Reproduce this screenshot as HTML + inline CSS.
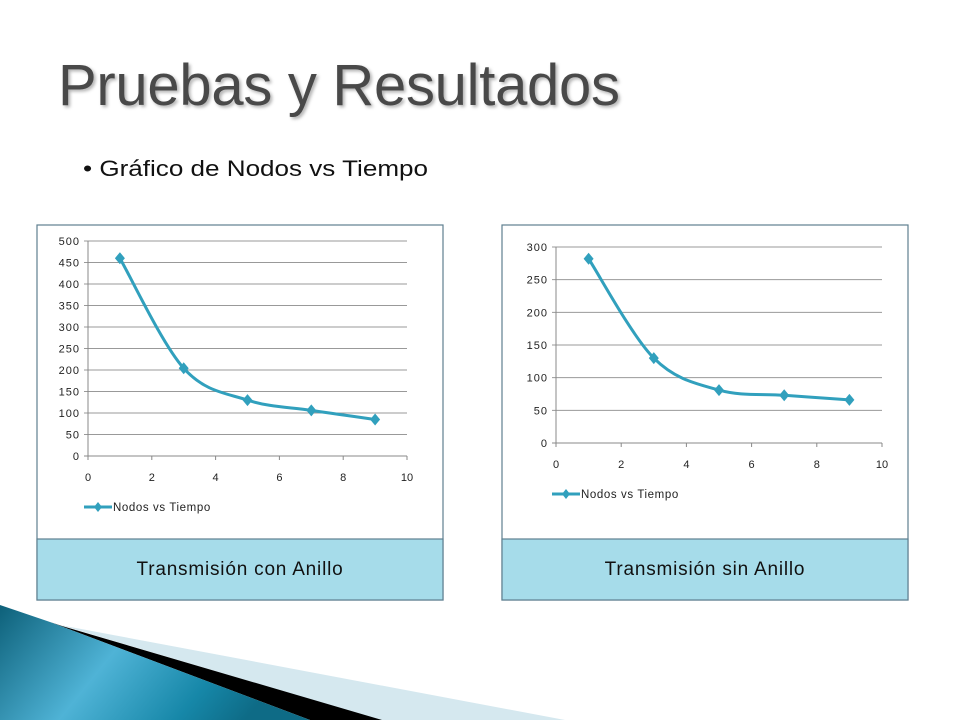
<!DOCTYPE html>
<html><head><meta charset="utf-8"><style>
html,body{margin:0;padding:0;background:#fff;}
svg{display:block;font-family:"Liberation Sans",sans-serif;}
</style></head><body>
<svg id="slide" width="960" height="720" viewBox="0 0 960 720">
<defs>
<linearGradient id="bg1" x1="0" y1="0" x2="1" y2="0.3">
<stop offset="0" stop-color="#0d6079"/><stop offset="0.45" stop-color="#4fb3d6"/><stop offset="0.8" stop-color="#1687a8"/><stop offset="1" stop-color="#0e6b86"/>
</linearGradient>
<filter id="sh"><feDropShadow dx="2" dy="2" stdDeviation="1.5" flood-color="#000" flood-opacity="0.3"/></filter>
</defs>
<text x="58" y="105" font-size="58" fill="#4a4a4a" textLength="562" lengthAdjust="spacing" filter="url(#sh)">Pruebas y Resultados</text>
<text x="83" y="176" font-size="22" fill="#111" textLength="345" lengthAdjust="spacingAndGlyphs">• Gráfico de Nodos vs Tiempo</text>

<g>
<polygon points="60,625 565,720 380,720" fill="#d5e8ef"/>
<polygon points="50,622 62,626 382,720 310,720" fill="#000"/>
<polygon points="0,605 50,622 310,720 0,720" fill="url(#bg1)"/>
</g>

<g id="left"></g>
<g id="right"></g>
</svg>
<script>
const xCategories=[1,3,5,7,9];
const leftValues=[460,204,130,106,85];
const rightValues=[282,130,81,73,66];
const leftTicks=[0,50,100,150,200,250,300,350,400,450,500];
const rightTicks=[0,50,100,150,200,250,300];
const xTicks=[0,2,4,6,8,10];
const NS="http://www.w3.org/2000/svg";
function mk(p,tag,a){const e=document.createElementNS(NS,tag);for(const k in a)e.setAttribute(k,a[k]);p.appendChild(e);return e;}
function chart(g,cfg,values,ticks,caption){
  const bx=cfg.bx,bw=406;
  const box=mk(g,'rect',{x:bx,y:225,width:bw,height:375,fill:'#fff',stroke:'#5f7f90','stroke-width':1.2});
  
  
  const cap=mk(g,'rect',{x:bx,y:539,width:bw,height:61,fill:'#a6dcea',stroke:'#5f7f90','stroke-width':1.2});
  
  
  const ct=mk(g,'text',{x:bx+bw/2,y:575,'font-size':19,'text-anchor':'middle',fill:'#111','letter-spacing':'0.8'});
  ct.textContent=caption;
  
  
  const ymax=ticks[ticks.length-1];
  const X=v=>cfg.x0+(v-0)/(10)*(cfg.x1-cfg.x0);
  const Y=v=>cfg.y0-v/ymax*(cfg.y0-cfg.y1);
  ticks.forEach(t=>{
    const l=mk(g,'line',{x1:X(0)-4,x2:X(10),y1:Y(t),y2:Y(t),stroke:t===0?'#888':'#999','stroke-width':1});
    
    
    const tx=mk(g,'text',{x:X(0)-8,y:Y(t)+4,'font-size':11,'text-anchor':'end',fill:'#222','letter-spacing':'1'});
    tx.textContent=t;
    
    
  });
  const ax=mk(g,'line',{x1:X(0),x2:X(0),y1:Y(ymax),y2:Y(0),stroke:'#888'});
  
  
  xTicks.forEach(t=>{
    const l=mk(g,'line',{x1:X(t),x2:X(t),y1:Y(0),y2:Y(0)+4,stroke:'#888'});
    
    
    const tx=mk(g,'text',{x:X(t),y:Y(0)+25,'font-size':11,'text-anchor':'middle',fill:'#222'});
    tx.textContent=t;
    
    
  });
  const pts=xCategories.map((c,i)=>[X(c),Y(values[i])]);
  let d='M'+pts[0][0]+','+pts[0][1];
  for(let i=0;i<pts.length-1;i++){
    const p0=pts[Math.max(0,i-1)],p1=pts[i],p2=pts[i+1],p3=pts[Math.min(pts.length-1,i+2)];
    const t=1/6;
    d+=' C'+(p1[0]+(p2[0]-p0[0])*t)+','+(p1[1]+(p2[1]-p0[1])*t)+' '+(p2[0]-(p3[0]-p1[0])*t)+','+(p2[1]-(p3[1]-p1[1])*t)+' '+p2[0]+','+p2[1];
  }
  const line=mk(g,'path',{d:d,fill:'none',stroke:'#31a0bd','stroke-width':3});
  
  
  pts.forEach(p=>{
    const m=mk(g,'polygon',{points:`${p[0]},${p[1]-6} ${p[0]+5},${p[1]} ${p[0]},${p[1]+6} ${p[0]-5},${p[1]}`,fill:'#31a0bd'});
    
    
  });
  const lg=mk(g,'g',{});
  
  
  const ly=cfg.ly;
  mk(lg,'line',{x1:X(0)-4,x2:X(0)+24,y1:ly,y2:ly,stroke:'#31a0bd','stroke-width':3});
  const cx=X(0)+10;
  mk(lg,'polygon',{points:`${cx},${ly-5} ${cx+4},${ly} ${cx},${ly+5} ${cx-4},${ly}`,fill:'#31a0bd'});
  const lt=mk(lg,'text',{x:X(0)+25,y:ly+4,'font-size':11.5,fill:'#222','letter-spacing':'0.6'});
  lt.textContent='Nodos vs Tiempo';
}
chart(document.getElementById('left'),{bx:37,x0:88,x1:407,y0:456,y1:241,ly:507},leftValues,leftTicks,'Transmisión con Anillo');
chart(document.getElementById('right'),{bx:502,x0:556,x1:882,y0:443,y1:247,ly:494},rightValues,rightTicks,'Transmisión sin Anillo');
</script>
</body></html>
